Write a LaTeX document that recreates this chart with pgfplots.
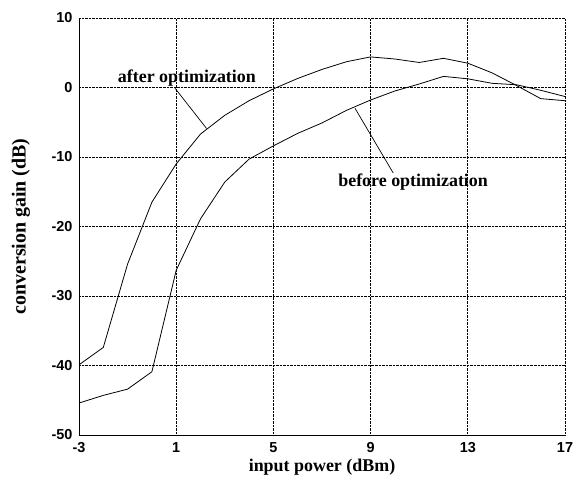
\documentclass[border=0pt]{standalone}
\usepackage{pgfplots}
\pgfplotsset{compat=1.18}
\usepackage{fontspec}
\setmainfont{Liberation Serif}
\newfontfamily\tickfont{Liberation Sans}
\begin{document}
\begin{tikzpicture}[x=1bp,y=1bp]
\begin{axis}[
  scale only axis, width=486bp, height=417bp,
  xmin=-3, xmax=17, ymin=-50, ymax=10,
  xtick={-3,1,5,9,13,17}, ytick={-50,-40,-30,-20,-10,0,10},
  xticklabels={-3,1,5,9,13,17},
  yticklabels={-50,-40,-30,-20,-10,0,10},
  axis x line*=bottom, axis y line*=left,
  axis line style={line width=1pt, -},
  major tick length=0pt,
  grid=major,
  major grid style={densely dotted, black, line width=0.7pt},
  tick label style={font=\tickfont\bfseries\fontsize{14.5}{15}\selectfont},
  xticklabel style={yshift=-4bp},
  yticklabel style={xshift=-3bp},
  xlabel={input power (dBm)},
  ylabel={conversion gain (dB)},
  every axis x label/.style={at={(axis description cs:0.5,-0.0767)}, anchor=center,
     font=\bfseries\fontsize{18}{20}\selectfont},
  every axis y label/.style={at={(axis description cs:-0.1193,0.5)}, anchor=center, rotate=90,
     font=\bfseries\fontsize{20}{22}\selectfont},
  clip=false,
]
\addplot[black, line width=0.8pt] coordinates {
(-3,-39.9) (-2,-37.4) (-1,-25.4) (0,-16.5) (1,-11.0) (2,-6.7) (3,-4.0)
(4,-1.9) (5,-0.2) (6,1.3) (7,2.6) (8,3.7) (9,4.4) (10,4.1) (11,3.6)
(12,4.2) (13,3.5) (14,2.1) (15,0.3) (16,-1.6) (17,-1.9)};
\addplot[black, line width=0.8pt] coordinates {
(-3,-45.4) (-2,-44.3) (-1,-43.4) (0,-40.9) (1,-26.3) (2,-18.9) (3,-13.6)
(4,-10.3) (5,-8.4) (6,-6.6) (7,-5.1) (8,-3.3) (9,-1.8) (10,-0.5) (11,0.5)
(12,1.6) (13,1.25) (14,0.6) (15,0.4) (16,-0.4) (17,-1.3)};
\node[font=\bfseries\fontsize{18}{20}\selectfont] at (axis cs:1.44,1.3) {after optimization};
\draw[line width=0.7pt] (axis cs:0.95,-0.1) -- (axis cs:2.25,-5.9);
\node[font=\bfseries\fontsize{18}{20}\selectfont] at (axis cs:10.75,-13.6) {before optimization};
\draw[line width=0.7pt] (axis cs:8.36,-3.0) -- (axis cs:9.93,-12.3);
\end{axis}
\path (current axis.south west) ++(-79bp,-52bp) coordinate (bbA);
\path (current axis.north east) ++(17bp,18bp) coordinate (bbB);
\useasboundingbox (bbA) rectangle (bbB);
\end{tikzpicture}
\end{document}
